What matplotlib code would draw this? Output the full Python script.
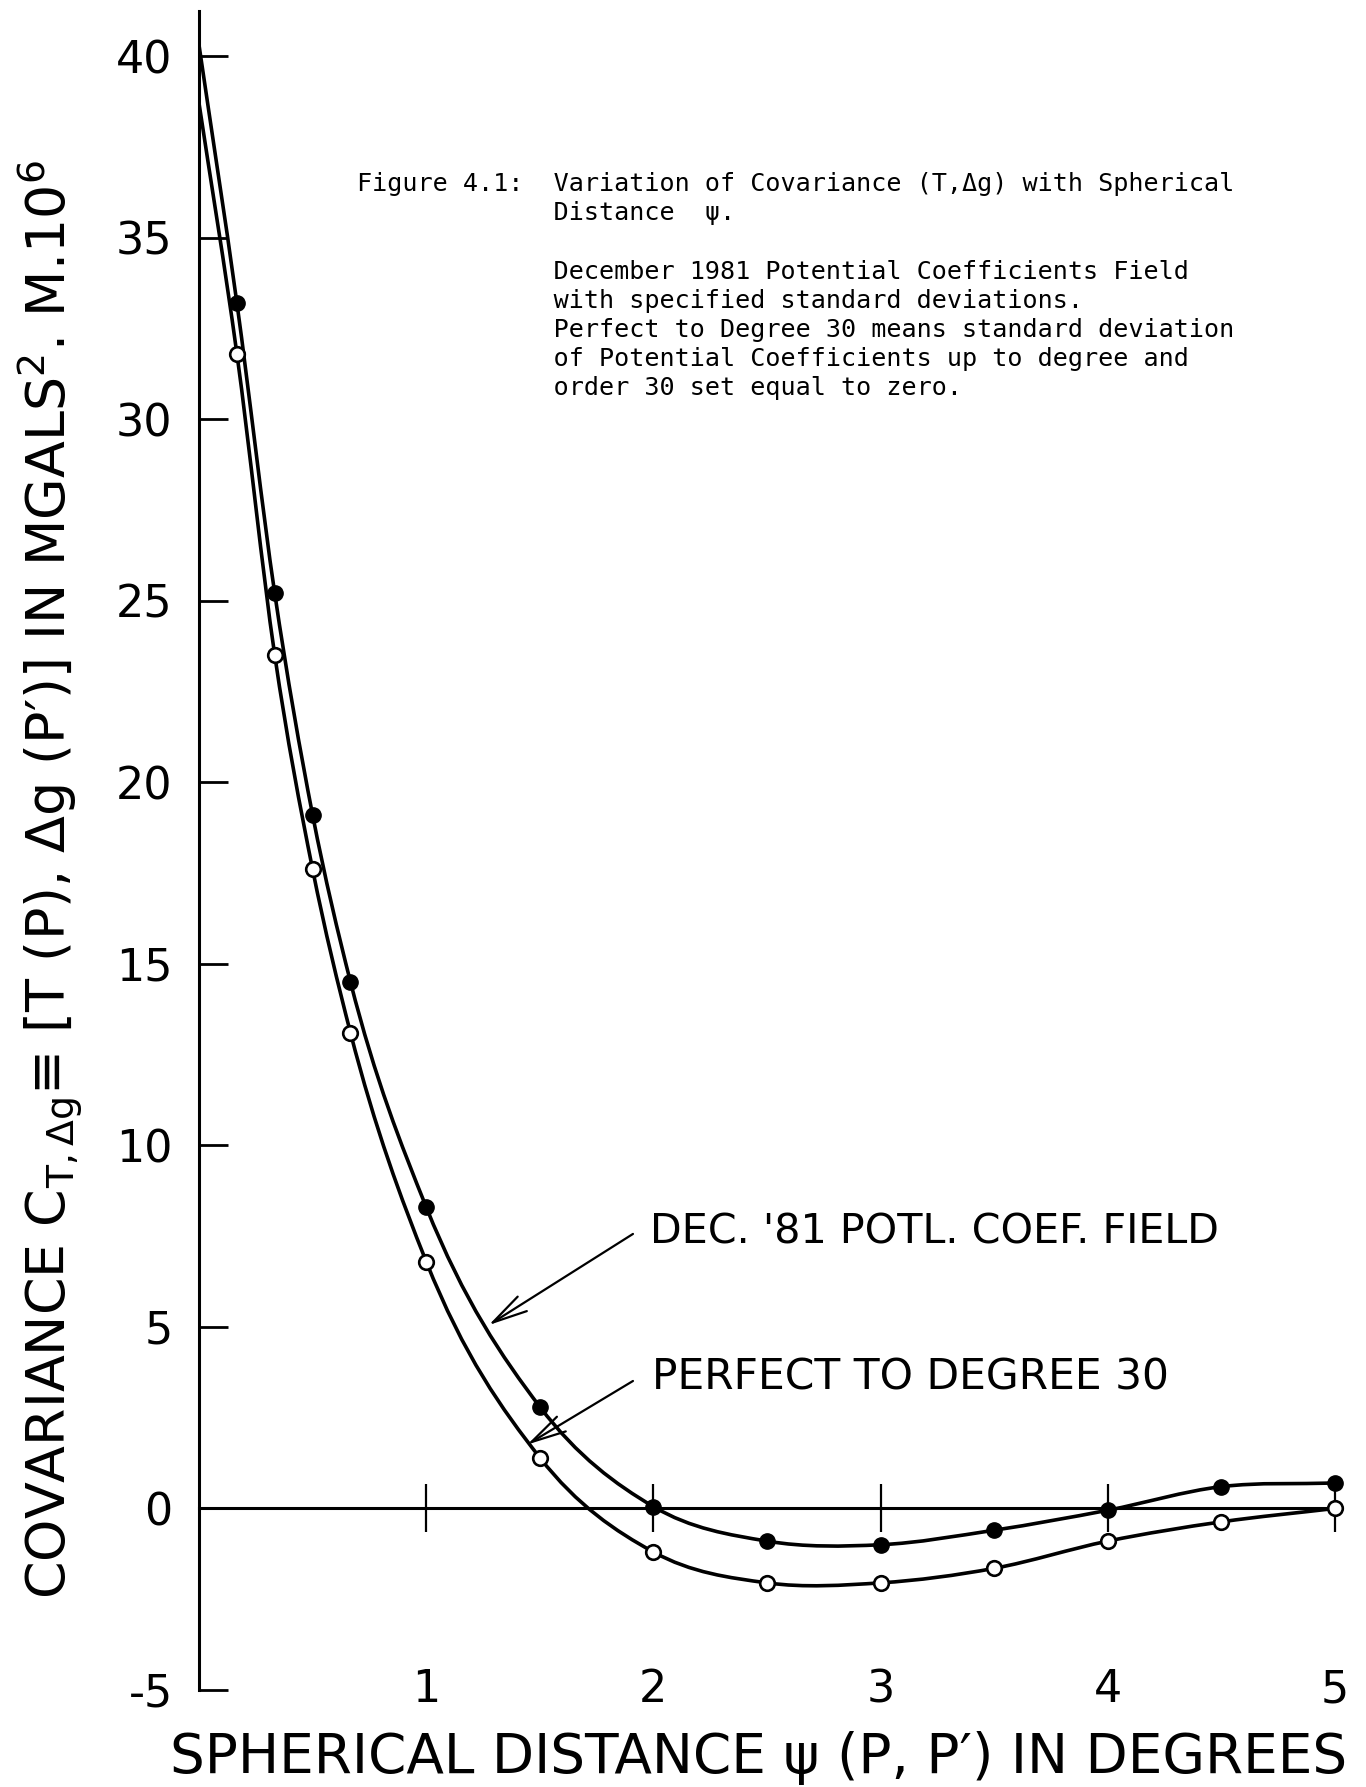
import numpy as np
import matplotlib.pyplot as plt
from matplotlib.path import Path
from matplotlib.patches import PathPatch

# distancia esferica (graus) e covariancias
psi = [0.0, 1/6, 2/6, 3/6, 4/6, 1.0, 1.5, 2.0, 2.5, 3.0, 3.5, 4.0, 4.5, 5.0]
cov_dec81 = [40.3, 33.2, 25.2, 19.1, 14.5, 8.3, 2.8, 0.05, -0.9, -1.0, -0.6, -0.05, 0.6, 0.7]
cov_perf30 = [38.7, 31.8, 23.5, 17.6, 13.1, 6.8, 1.4, -1.2, -2.05, -2.05, -1.65, -0.9, -0.37, 0.0]

yticks = [-5, 0, 5, 10, 15, 20, 25, 30, 35, 40]
xticks = [1, 2, 3, 4, 5]
xticklabels = ['1', '2', '3', '4', '5']

label_dec = "DEC. '81 POTL. COEF. FIELD"
label_perf = 'PERFECT TO DEGREE 30'
caption = ('Figure 4.1:  Variation of Covariance (T,\u0394g) with Spherical\n'
           '             Distance  \u03c8.\n'
           '\n'
           '             December 1981 Potential Coefficients Field\n'
           '             with specified standard deviations.\n'
           '             Perfect to Degree 30 means standard deviation\n'
           '             of Potential Coefficients up to degree and\n'
           '             order 30 set equal to zero.')

plt.rcParams['font.family'] = ['DejaVu Sans']


def smooth_path(x, y):
    # curva de Bezier (hermite) passando pelos pontos
    x = np.asarray(x, float)
    y = np.asarray(y, float)
    h = np.diff(x)
    d = np.diff(y) / h
    m = np.empty_like(y)
    m[0], m[-1] = d[0], d[-1]
    m[1:-1] = (h[:-1] * d[1:] + h[1:] * d[:-1]) / (h[:-1] + h[1:])
    verts = [(x[0], y[0])]
    codes = [Path.MOVETO]
    for i in range(len(x) - 1):
        verts += [(x[i] + h[i] / 3, y[i] + m[i] * h[i] / 3),
                  (x[i + 1] - h[i] / 3, y[i + 1] - m[i + 1] * h[i] / 3),
                  (x[i + 1], y[i + 1])]
        codes += [Path.CURVE4] * 3
    return Path(verts, codes)


fig = plt.figure(figsize=(13.66, 17.87), dpi=100)
ax = fig.add_axes([0.1457, 0.0543, 0.8316, 0.9395])
ax.set_xlim(0, 5)
ax.set_ylim(-5, 41.24)

for yy in (cov_dec81, cov_perf30):
    ax.add_patch(PathPatch(smooth_path(psi, yy), fill=False, lw=2.6, color='black'))
ax.plot(psi[1:], cov_dec81[1:], 'o', ms=11, mfc='black', mec='black', clip_on=False)
ax.plot(psi[1:], cov_perf30[1:], 'o', ms=10.5, mfc='white', mec='black', mew=1.9,
        clip_on=False, zorder=3)

for s in ('top', 'right'):
    ax.spines[s].set_visible(False)
ax.spines['left'].set_linewidth(2.2)
ax.spines['bottom'].set_position(('data', 0))
ax.spines['bottom'].set_linewidth(2.2)

ax.set_yticks(yticks)
ax.set_yticklabels([str(v) for v in yticks])
ax.tick_params(axis='y', direction='in', length=21, width=2, pad=19, labelsize=32)
ax.set_xticks(xticks)
ax.set_xticklabels([])
ax.tick_params(axis='x', direction='inout', length=34, width=1.6)
for xv, lab in zip(xticks, xticklabels):
    ax.text(xv, -5, lab, ha='center', va='center', fontsize=32)

ax.text(1.985, 7.6, label_dec, ha='left', va='center', fontsize=29.7)
ax.text(1.995, 3.61, label_perf, ha='left', va='center', fontsize=30.5)
arrow = dict(arrowstyle='->,head_length=0.9,head_width=0.22', lw=1.6, color='black',
             shrinkA=0, shrinkB=0, mutation_scale=28)
ax.annotate('', xy=(1.275, 5.05), xytext=(1.91, 7.56), arrowprops=arrow)
ax.annotate('', xy=(1.445, 1.76), xytext=(1.91, 3.51), arrowprops=arrow)

fig.text(0.2613, 0.9036, caption, ha='left', va='top', fontsize=18.1,
         family=['DejaVu Sans Mono'], linespacing=1.27)

fig.text(0.555, 0.016, 'SPHERICAL DISTANCE \u03c8 (P, P\u2032) IN DEGREES',
         ha='center', va='center', fontsize=39.5)
fig.text(0.037, 0.508,
         'COVARIANCE C$_{\\mathregular{T,\\Delta g}}$\u2261 [T (P), \u0394g (P\u2032)] IN MGALS$^{\\mathregular{2}}$. M.10$^{\\mathregular{6}}$',
         ha='center', va='center', rotation=90, fontsize=38.8)

fig.savefig('out.png', dpi=100, facecolor='white')
